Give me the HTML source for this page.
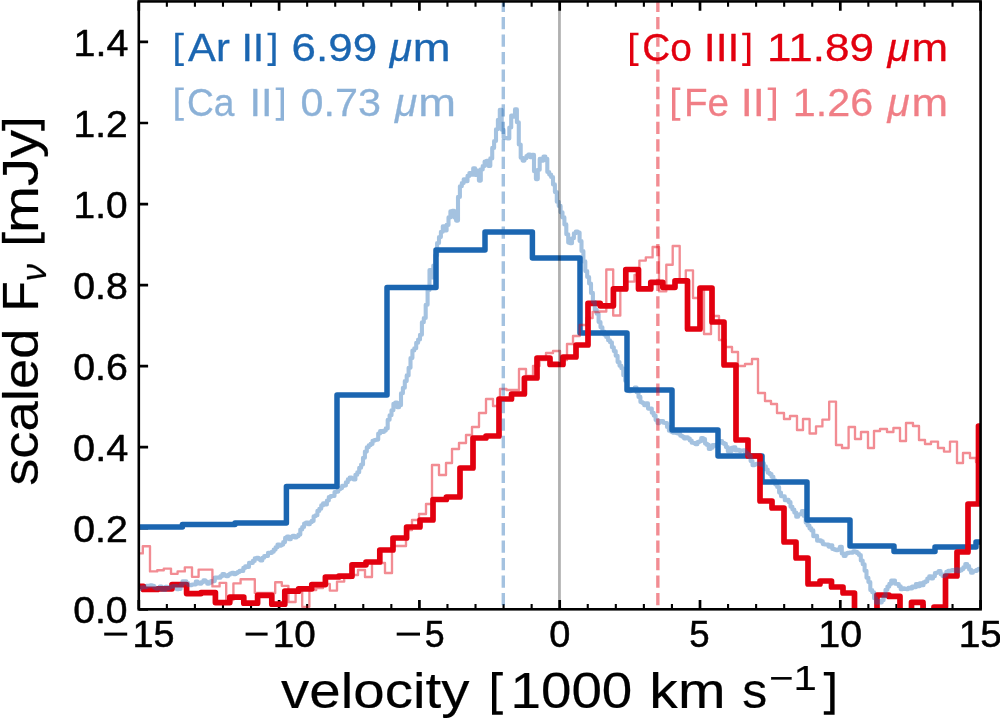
<!DOCTYPE html>
<html><head><meta charset="utf-8"><title>velocity profiles</title>
<style>
html,body{margin:0;padding:0;background:#fff;}
body{width:1000px;height:719px;overflow:hidden;}
svg{display:block;will-change:transform;}
text{font-family:"Liberation Sans",sans-serif;}
</style></head><body>
<svg width="1000" height="719" viewBox="0 0 1000 719">
<rect width="1000" height="719" fill="#fff"/>
<defs><clipPath id="ax"><rect x="138.8" y="1.4" width="841.8" height="607.9"/></clipPath></defs>
<path d="M138.80,609.3v-9.3M138.80,1.4v9.3M279.10,609.3v-9.3M279.10,1.4v9.3M419.40,609.3v-9.3M419.40,1.4v9.3M559.70,609.3v-9.3M559.70,1.4v9.3M700.00,609.3v-9.3M700.00,1.4v9.3M840.30,609.3v-9.3M840.30,1.4v9.3M980.60,609.3v-9.3M980.60,1.4v9.3M138.8,609.30h9.3M138.8,528.25h9.3M138.8,447.19h9.3M138.8,366.14h9.3M138.8,285.08h9.3M138.8,204.03h9.3M138.8,122.98h9.3M138.8,41.92h9.3" stroke="#000" stroke-width="2.7" fill="none"/>
<path d="M166.86,609.3v-5.2M166.86,1.4v5.3M194.92,609.3v-5.2M194.92,1.4v5.3M222.98,609.3v-5.2M222.98,1.4v5.3M251.04,609.3v-5.2M251.04,1.4v5.3M307.16,609.3v-5.2M307.16,1.4v5.3M335.22,609.3v-5.2M335.22,1.4v5.3M363.28,609.3v-5.2M363.28,1.4v5.3M391.34,609.3v-5.2M391.34,1.4v5.3M447.46,609.3v-5.2M447.46,1.4v5.3M475.52,609.3v-5.2M475.52,1.4v5.3M503.58,609.3v-5.2M503.58,1.4v5.3M531.64,609.3v-5.2M531.64,1.4v5.3M587.76,609.3v-5.2M587.76,1.4v5.3M615.82,609.3v-5.2M615.82,1.4v5.3M643.88,609.3v-5.2M643.88,1.4v5.3M671.94,609.3v-5.2M671.94,1.4v5.3M728.06,609.3v-5.2M728.06,1.4v5.3M756.12,609.3v-5.2M756.12,1.4v5.3M784.18,609.3v-5.2M784.18,1.4v5.3M812.24,609.3v-5.2M812.24,1.4v5.3M868.36,609.3v-5.2M868.36,1.4v5.3M896.42,609.3v-5.2M896.42,1.4v5.3M924.48,609.3v-5.2M924.48,1.4v5.3M952.54,609.3v-5.2M952.54,1.4v5.3" stroke="#000" stroke-width="2.1" fill="none"/>
<g clip-path="url(#ax)" fill="none" stroke-linejoin="round">
<path d="M139.3,527.0H182.4V524.4H235.0V523.0H286.4V486.4H337.0V395.0H387.0V287.6H436.0V250.0H485.0V232.0H532.4V258.0H580.0V333.0H627.0V390.0H672.0V430.0H718.0V456.0H762.0V482.0H807.0V520.0H850.0V546.0H894.0V551.6H935.0V547.0H976.0V542.0H985.0" stroke="#1b66b1" stroke-width="5.5"/>
<path d="M139.3,586.4H143.4V589.4H157.5V588.8H172.0V584.6H186.6V593.6H201.0V592.6H215.4V602.6H229.8V597.2H243.8V603.2H257.6V595.4H271.8V604.2H284.8V591.2H298.6V588.8H311.8V584.6H325.4V577.0H338.8V576.2H352.0V564.8H366.0V562.0H379.8V550.0H393.0V538.0H406.6V527.0H420.0V520.0H433.0V499.5H446.4V497.0H460.0V468.0H473.0V438.0H486.0V436.0H499.0V399.0H511.5V394.0H524.4V378.0H537.0V358.0H550.0V364.4H563.0V357.0H576.0V345.0H588.0V303.4H600.2V305.8H613.4V288.9H625.8V269.5H638.5V288.9H650.8V282.4H662.8V287.3H675.0V280.8H687.5V329.0H700.0V288.0H712.0V322.0H724.0V365.0H736.0V440.0H748.0V456.0H760.0V501.0H772.0V508.0H784.0V542.0H796.0V558.0H808.0V584.0H820.0V581.0H831.5V587.0H843.0V593.0H854.5V618.0H866.0V618.0H877.0V595.0H889.0V596.4H900.0V618.0H911.5V602.4H923.0V618.0H934.0V607.0H945.5V576.0H957.0V552.0H968.0V504.0H978.5V426.0H990.0" stroke="#e2000f" stroke-width="5.7"/>
<path d="M138.8,588.9H140.7V587.5H142.6V587.2H144.5V587.3H146.4V585.7H148.3V586.3H150.2V585.2H152.1V585.7H154.0V587.5H155.9V588.6H157.8V588.3H159.7V586.5H161.6V589.8H163.5V590.0H165.4V586.7H167.3V588.4H169.2V587.0H171.1V586.6H173.0V586.0H174.9V586.0H176.8V589.2H178.7V588.9H180.6V584.9H182.5V581.3H184.4V581.3H186.3V583.0H188.2V584.9H190.1V585.1H192.0V584.5H193.9V584.5H195.8V581.5H197.7V583.4H199.6V583.6H201.5V582.1H203.4V580.4H205.3V581.5H207.2V583.8H209.1V582.7H211.0V581.0H212.9V581.1H214.8V577.5H216.7V577.6H218.6V577.8H220.5V576.1H222.4V574.0H224.3V575.5H226.2V576.3H228.1V574.8H230.0V573.5H231.9V572.8H233.8V574.3H235.7V573.1H237.6V572.0H239.5V570.9H241.4V570.9H243.3V567.9H245.2V566.4H247.1V567.0H249.0V562.9H250.9V563.0H252.8V560.9H254.7V558.4H256.6V557.7H258.5V559.1H260.4V560.5H262.3V557.8H264.2V556.1H266.1V555.9H268.0V552.8H269.9V553.0H271.8V551.8H273.7V549.6H275.6V547.3H277.5V544.6H279.4V545.6H281.3V544.6H283.2V542.1H285.1V537.9H287.0V536.5H288.9V539.2H290.8V536.9H292.7V535.9H294.6V537.5H296.5V536.2H298.4V534.6H300.3V529.5H302.2V527.0H304.1V523.5H306.0V522.5H307.9V524.2H309.8V522.2H311.7V520.9H313.6V516.3H315.5V515.2H317.4V510.9H319.3V508.7H321.2V505.4H323.1V503.3H325.0V504.5H326.9V500.5H328.8V497.1H330.7V496.1H332.6V496.0H334.5V492.1H336.4V491.6H338.3V489.3H340.2V488.1H342.1V485.9H344.0V485.5H345.9V482.3H347.8V479.4H349.7V477.5H351.6V478.5H353.5V479.4H355.4V474.8H357.3V472.2H359.2V467.7H361.1V464.5H363.0V457.7H364.9V451.6H366.8V447.3H368.7V445.2H370.6V443.9H372.5V440.7H374.4V440.0H376.3V439.6H378.2V433.5H380.1V431.1H382.0V431.9H383.9V430.6H385.8V428.4H387.7V419.8H389.6V415.3H391.5V410.3H393.4V403.8H395.3V402.6H397.2V407.3H399.1V405.3H401.0V393.2H402.9V387.8H404.8V381.1H406.7V375.4H408.6V367.7H410.5V358.1H412.4V350.5H414.3V348.2H416.2V342.8H418.1V339.5H420.0V334.8H421.9V322.3H423.8V318.0H425.7V304.7H427.6V289.9H429.5V270.0H431.4V277.4H433.3V265.6H435.2V255.3H437.1V243.0H439.0V237.1H440.9V231.8H442.8V226.3H444.7V230.4H446.6V224.9H448.5V217.4H450.4V211.3H452.3V210.8H454.2V217.5H456.1V220.6H458.0V196.9H459.9V186.3H461.8V183.1H463.7V179.2H465.6V181.2H467.5V175.9H469.4V173.0H471.3V174.6H473.2V168.3H475.1V174.9H477.0V170.5H478.9V180.6H480.8V169.4H482.7V166.1H484.6V161.5H486.5V160.9H488.4V165.9H490.3V158.4H492.2V147.9H494.1V141.0H496.0V129.3H497.9V119.8H499.8V109.7H501.7V129.7H503.6V137.8H505.5V138.1H507.4V138.5H509.3V127.5H511.2V115.6H513.1V116.7H515.0V109.4H516.9V122.3H518.8V144.5H520.7V157.7H522.6V160.6H524.5V158.2H526.4V156.0H528.3V154.6H530.2V157.2H532.1V154.9H534.0V171.2H535.9V179.1H537.8V169.8H539.7V158.9H541.6V160.6H543.5V156.6H545.4V158.7H547.3V172.0H549.2V174.6H551.1V177.0H553.0V184.4H554.9V192.1H556.8V201.8H558.7V205.9H560.6V212.3H562.5V217.4H564.4V224.4H566.3V234.3H568.2V242.6H570.1V243.3H572.0V238.2H573.9V233.2H575.8V231.5H577.7V232.5H579.6V241.0H581.5V251.0H583.4V261.4H585.3V271.1H587.2V277.0H589.1V283.5H591.0V292.9H592.9V301.8H594.8V309.8H596.7V313.8H598.6V322.0H600.5V327.2H602.4V331.6H604.3V334.8H606.2V336.9H608.1V340.3H610.0V342.3H611.9V347.2H613.8V351.1H615.7V355.7H617.6V362.1H619.5V365.7H621.4V368.3H623.3V375.2H625.2V380.8H627.1V389.3H629.0V391.3H630.9V389.4H632.8V389.4H634.7V387.5H636.6V392.3H638.5V396.9H640.4V402.0H642.3V403.0H644.2V405.2H646.1V403.4H648.0V408.6H649.9V408.6H651.8V412.7H653.7V415.6H655.6V419.9H657.5V423.1H659.4V421.0H661.3V421.0H663.2V422.7H665.1V423.1H667.0V427.0H668.9V430.8H670.8V431.6H672.7V432.6H674.6V432.3H676.5V433.3H678.4V433.7H680.3V435.7H682.2V436.8H684.1V438.4H686.0V437.4H687.9V438.6H689.8V440.5H691.7V442.8H693.6V443.1H695.5V444.3H697.4V442.1H699.3V441.2H701.2V438.1H703.1V439.0H705.0V443.6H706.9V444.9H708.8V448.9H710.7V447.7H712.6V445.1H714.5V445.6H716.4V444.6H718.3V441.6H720.2V441.1H722.1V442.9H724.0V443.9H725.9V447.1H727.8V451.2H729.7V451.2H731.6V447.7H733.5V447.4H735.4V450.4H737.3V449.7H739.2V450.9H741.1V450.5H743.0V450.3H744.9V452.2H746.8V454.0H748.7V455.8H750.6V461.1H752.5V465.2H754.4V464.5H756.3V463.7H758.2V463.7H760.1V464.7H762.0V463.3H763.9V466.2H765.8V469.5H767.7V472.7H769.6V474.1H771.5V476.7H773.4V480.2H775.3V484.4H777.2V487.0H779.1V492.6H781.0V496.3H782.9V496.4H784.8V500.2H786.7V499.8H788.6V502.1H790.5V506.8H792.4V509.5H794.3V512.6H796.2V516.7H798.1V514.5H800.0V514.1H801.9V511.1H803.8V516.0H805.7V522.6H807.6V525.5H809.5V528.4H811.4V530.4H813.3V536.3H815.2V535.9H817.1V540.7H819.0V540.4H820.9V541.4H822.8V544.1H824.7V544.5H826.6V544.6H828.5V546.6H830.4V545.2H832.3V548.9H834.2V549.6H836.1V550.2H838.0V549.3H839.9V546.7H841.8V553.5H843.7V556.0H845.6V553.6H847.5V552.9H849.4V552.5H851.3V552.6H853.2V551.3H855.1V551.7H857.0V553.2H858.9V555.0H860.8V560.5H862.7V564.3H864.6V570.8H866.5V577.7H868.4V582.0H870.3V590.1H872.2V592.2H874.1V598.3H876.0V602.6H877.9V601.0H879.8V602.5H881.7V600.2H883.6V596.5H885.5V589.7H887.4V586.6H889.3V583.9H891.2V580.6H893.1V580.5H895.0V583.7H896.9V584.0H898.8V586.3H900.7V589.2H902.6V588.4H904.5V589.0H906.4V589.1H908.3V587.7H910.2V588.5H912.1V586.6H914.0V587.3H915.9V584.0H917.8V586.3H919.7V583.2H921.6V585.2H923.5V582.4H925.4V581.4H927.3V578.5H929.2V576.4H931.1V578.5H933.0V576.2H934.9V573.1H936.8V572.5H938.7V571.1H940.6V574.3H942.5V576.0H944.4V574.8H946.3V571.8H948.2V570.9H950.1V570.8H952.0V570.1H953.9V570.7H955.8V569.3H957.7V571.2H959.6V570.4H961.5V569.1H963.4V567.2H965.3V564.1H967.2V566.1H969.1V569.6H971.0V572.8H972.9V571.2H974.8V570.9H976.7V569.7H978.6V568.9H980.5V570.4" stroke="#1b66b1" stroke-opacity="0.4" stroke-width="4.1"/>
<path d="M139.3,553.4H142.8V546.2H150.0V571.4H157.2V570.2H163.8V568.6H171.0V573.8H177.6V571.4H184.8V567.4H192.0V576.8H198.6V569.6H205.5V569.6H212.4V586.4H219.6V582.8H226.2V600.0H233.4V583.4H240.6V579.2H247.7V579.2H254.8V593.0H261.6V593.0H268.4V593.0H275.2V582.2H281.8V585.8H288.4V602.0H295.6V592.0H302.2V606.8H309.4V590.0H316.2V588.0H323.0V584.0H329.8V590.6H337.0V581.6H344.2V578.0H351.0V575.0H358.0V570.0H365.0V577.0H372.0V563.0H378.5V563.0H385.0V573.0H392.0V546.0H399.0V546.0H406.0V530.0H412.0V520.0H419.0V514.0H426.0V504.0H432.0V465.0H439.0V475.0H446.0V463.0H452.0V449.0H459.0V443.0H466.0V435.0H472.0V427.0H479.0V413.0H486.0V399.0H493.0V406.0H500.0V389.0H506.5V390.0H513.0V390.0H519.0V369.0H526.0V376.0H533.0V366.0H539.5V360.0H546.0V353.0H553.0V351.0H560.0V360.0H567.0V344.0H573.0V336.0H579.7V325.0H586.5V318.0H592.6V312.0H599.5V311.5H606.3V269.5H613.2V315.5H620.3V290.0H627.0V281.6H634.5V275.0H639.4V260.6H645.8V257.4H652.6V247.0H659.0V291.3H666.3V264.7H672.7V246.0H679.7V280.0H685.8V270.3H693.0V298.0H698.5V290.0H704.0V334.0H711.0V316.0H719.0V340.0H725.5V347.0H732.0V352.0H738.0V366.0H745.0V364.0H752.0V359.0H758.0V393.0H765.0V401.0H771.0V404.0H777.0V413.0H784.0V419.0H790.0V416.0H797.0V430.0H803.0V419.0H809.6V433.5H816.0V426.4H822.4V419.6H829.2V401.6H836.0V445.0H842.0V448.0H848.6V427.0H855.0V439.0H861.0V432.0H868.0V448.0H874.0V431.0H880.0V429.0H887.0V432.0H893.4V428.0H900.0V441.0H906.0V423.0H913.0V426.0H919.0V440.0H925.0V444.0H931.0V441.6H938.0V448.0H944.0V451.6H950.0V441.6H957.0V463.0H963.0V453.0H970.0V458.0H976.0V462.0H985.0" stroke="#e2000f" stroke-opacity="0.45" stroke-width="2.35"/>
</g>
<path d="M175.20,32.68H183.80V35.37H178.64V63.34H183.80V66.04H175.20Z" fill="#1b66b1"/>
<text transform="translate(188.12,61.10) scale(1.0608,1)" font-size="39.40" fill="#1b66b1" stroke="#1b66b1" stroke-width="0.3" stroke-linejoin="round">Ar</text>
<text transform="translate(241.41,61.10) scale(1.0464,1)" font-size="39.40" fill="#1b66b1" stroke="#1b66b1" stroke-width="0.3" stroke-linejoin="round">II</text>
<path d="M275.70,32.68H267.50V35.37H272.26V63.34H267.50V66.04H275.70Z" fill="#1b66b1"/>
<text transform="translate(291.62,61.10) scale(1.1148,1)" font-size="39.40" fill="#1b66b1" stroke="#1b66b1" stroke-width="0.3" stroke-linejoin="round">6.99</text>
<text transform="translate(389.63,61.10) scale(1.0272,1)" font-size="39.40" fill="#1b66b1" stroke="#1b66b1" stroke-width="0.3" stroke-linejoin="round" font-style="italic">μ</text>
<text transform="translate(412.86,61.10) scale(1.1542,1)" font-size="39.40" fill="#1b66b1" stroke="#1b66b1" stroke-width="0.3" stroke-linejoin="round">m</text>
<path d="M175.20,87.38H183.80V90.07H178.64V118.04H183.80V120.74H175.20Z" fill="#1b66b1" fill-opacity="0.5"/>
<text transform="translate(186.96,115.80) scale(0.9440,1)" font-size="39.40" fill="#1b66b1" opacity="0.5" stroke="#1b66b1" stroke-width="0.3" stroke-linejoin="round">Ca</text>
<text transform="translate(249.59,115.80) scale(1.0531,1)" font-size="39.40" fill="#1b66b1" opacity="0.5" stroke="#1b66b1" stroke-width="0.3" stroke-linejoin="round">II</text>
<path d="M284.00,87.38H275.70V90.07H280.56V118.04H275.70V120.74H284.00Z" fill="#1b66b1" fill-opacity="0.5"/>
<text transform="translate(300.47,115.80) scale(1.0487,1)" font-size="39.40" fill="#1b66b1" opacity="0.5" stroke="#1b66b1" stroke-width="0.3" stroke-linejoin="round">0.73</text>
<text transform="translate(394.93,115.80) scale(1.0272,1)" font-size="39.40" fill="#1b66b1" opacity="0.5" stroke="#1b66b1" stroke-width="0.3" stroke-linejoin="round" font-style="italic">μ</text>
<text transform="translate(418.17,115.80) scale(1.1506,1)" font-size="39.40" fill="#1b66b1" opacity="0.5" stroke="#1b66b1" stroke-width="0.3" stroke-linejoin="round">m</text>
<path d="M630.00,32.68H638.50V35.37H633.44V63.34H638.50V66.04H630.00Z" fill="#e2000f"/>
<text transform="translate(642.18,61.10) scale(0.9844,1)" font-size="39.40" fill="#e2000f" stroke="#e2000f" stroke-width="0.3" stroke-linejoin="round">Co</text>
<text transform="translate(703.76,61.10) scale(1.0879,1)" font-size="39.40" fill="#e2000f" stroke="#e2000f" stroke-width="0.3" stroke-linejoin="round">III</text>
<path d="M750.40,32.68H742.20V35.37H746.96V63.34H742.20V66.04H750.40Z" fill="#e2000f"/>
<text transform="translate(767.02,61.10) scale(1.1183,1)" font-size="39.40" fill="#e2000f" stroke="#e2000f" stroke-width="0.3" stroke-linejoin="round">11.89</text>
<text transform="translate(887.43,61.10) scale(1.0272,1)" font-size="39.40" fill="#e2000f" stroke="#e2000f" stroke-width="0.3" stroke-linejoin="round" font-style="italic">μ</text>
<text transform="translate(911.47,61.10) scale(1.1146,1)" font-size="39.40" fill="#e2000f" stroke="#e2000f" stroke-width="0.3" stroke-linejoin="round">m</text>
<path d="M672.00,87.38H680.30V90.07H675.44V118.04H680.30V120.74H672.00Z" fill="#e2000f" fill-opacity="0.5"/>
<text transform="translate(683.93,115.80) scale(0.9801,1)" font-size="39.40" fill="#e2000f" opacity="0.5" stroke="#e2000f" stroke-width="0.3" stroke-linejoin="round">Fe</text>
<text transform="translate(740.82,115.80) scale(1.1005,1)" font-size="39.40" fill="#e2000f" opacity="0.5" stroke="#e2000f" stroke-width="0.3" stroke-linejoin="round">II</text>
<path d="M776.00,87.38H767.70V90.07H772.56V118.04H767.70V120.74H776.00Z" fill="#e2000f" fill-opacity="0.5"/>
<text transform="translate(792.72,115.80) scale(1.0493,1)" font-size="39.40" fill="#e2000f" opacity="0.5" stroke="#e2000f" stroke-width="0.3" stroke-linejoin="round">1.26</text>
<text transform="translate(887.43,115.80) scale(1.0272,1)" font-size="39.40" fill="#e2000f" opacity="0.5" stroke="#e2000f" stroke-width="0.3" stroke-linejoin="round" font-style="italic">μ</text>
<text transform="translate(911.47,115.80) scale(1.1146,1)" font-size="39.40" fill="#e2000f" opacity="0.5" stroke="#e2000f" stroke-width="0.3" stroke-linejoin="round">m</text>
<g clip-path="url(#ax)" fill="none">
<path d="M559.45,1.4V609.3" stroke="#000" stroke-opacity="0.31" stroke-width="2.8"/>
<path d="M503.3,-0.4V609.3" stroke="#1b66b1" stroke-opacity="0.4" stroke-width="3.4" stroke-dasharray="12.3 5.15"/>
<path d="M657.85,-0.4V609.3" stroke="#e2000f" stroke-opacity="0.45" stroke-width="3.4" stroke-dasharray="12.3 5.15"/>
</g>
<rect x="138.8" y="1.4" width="841.8" height="607.9" fill="none" stroke="#000" stroke-width="2.6"/>
<text transform="translate(132.57,646.60) scale(1.0158,1)" font-size="37.20" fill="#000" stroke="#000" stroke-width="0.5" stroke-linejoin="round">15</text>
<text transform="translate(272.80,646.60) scale(1.0403,1)" font-size="37.20" fill="#000" stroke="#000" stroke-width="0.5" stroke-linejoin="round">10</text>
<text transform="translate(424.77,646.60) scale(0.9621,1)" font-size="37.20" fill="#000" stroke="#000" stroke-width="0.5" stroke-linejoin="round">5</text>
<text transform="translate(549.18,646.60) scale(1.0193,1)" font-size="37.20" fill="#000" stroke="#000" stroke-width="0.5" stroke-linejoin="round">0</text>
<text transform="translate(689.33,646.60) scale(0.9847,1)" font-size="37.20" fill="#000" stroke="#000" stroke-width="0.5" stroke-linejoin="round">5</text>
<text transform="translate(818.25,646.60) scale(1.0591,1)" font-size="37.20" fill="#000" stroke="#000" stroke-width="0.5" stroke-linejoin="round">10</text>
<text transform="translate(958.68,646.60) scale(1.0483,1)" font-size="37.20" fill="#000" stroke="#000" stroke-width="0.5" stroke-linejoin="round">15</text>
<rect x="104.2" y="632.6" width="23.0" height="3.0" fill="#000"/>
<rect x="245.6" y="632.6" width="22.0" height="3.0" fill="#000"/>
<rect x="396.7" y="632.6" width="23.3" height="3.0" fill="#000"/>
<text transform="translate(73.13,623.30) scale(1.0528,1)" font-size="37.20" fill="#000" stroke="#000" stroke-width="0.5" stroke-linejoin="round">0.0</text>
<text transform="translate(73.13,542.25) scale(1.0567,1)" font-size="37.20" fill="#000" stroke="#000" stroke-width="0.5" stroke-linejoin="round">0.2</text>
<text transform="translate(73.11,461.19) scale(1.0671,1)" font-size="37.20" fill="#000" stroke="#000" stroke-width="0.5" stroke-linejoin="round">0.4</text>
<text transform="translate(73.13,380.14) scale(1.0568,1)" font-size="37.20" fill="#000" stroke="#000" stroke-width="0.5" stroke-linejoin="round">0.6</text>
<text transform="translate(73.13,299.08) scale(1.0568,1)" font-size="37.20" fill="#000" stroke="#000" stroke-width="0.5" stroke-linejoin="round">0.8</text>
<text transform="translate(73.59,218.03) scale(1.0438,1)" font-size="37.20" fill="#000" stroke="#000" stroke-width="0.5" stroke-linejoin="round">1.0</text>
<text transform="translate(73.58,136.98) scale(1.0476,1)" font-size="37.20" fill="#000" stroke="#000" stroke-width="0.5" stroke-linejoin="round">1.2</text>
<text transform="translate(73.55,55.92) scale(1.0585,1)" font-size="37.20" fill="#000" stroke="#000" stroke-width="0.5" stroke-linejoin="round">1.4</text>
<text transform="translate(281.10,708.40) scale(1.1226,1)" font-size="50.30" fill="#000" stroke="#000" stroke-width="0.2" stroke-linejoin="round">velocity</text>
<path d="M492.00,671.92H502.80V675.38H496.42V711.28H502.80V714.74H492.00Z" fill="#000"/>
<text transform="translate(510.47,708.40) scale(1.0889,1)" font-size="50.30" fill="#000" stroke="#000" stroke-width="0.2" stroke-linejoin="round">1000</text>
<text transform="translate(649.37,708.40) scale(1.1358,1)" font-size="50.30" fill="#000" stroke="#000" stroke-width="0.2" stroke-linejoin="round">km</text>
<text transform="translate(742.18,708.40) scale(0.9936,1)" font-size="50.30" fill="#000" stroke="#000" stroke-width="0.2" stroke-linejoin="round">s</text>
<path d="M834.60,671.92H823.80V675.38H830.18V711.28H823.80V714.74H834.60Z" fill="#000"/>
<text transform="translate(768.98,690.40) scale(1.1918,1)" font-size="35.20" fill="#000" stroke="#000" stroke-width="0.2" stroke-linejoin="round">−1</text>
<g transform="translate(38.3,0) rotate(-90)"><text transform="translate(-485.85,0.00) scale(1.0822,1)" font-size="50.30" fill="#000" stroke="#000" stroke-width="0.2" stroke-linejoin="round">scaled</text><text transform="translate(-311.39,0.00) scale(0.9875,1)" font-size="50.30" fill="#000" stroke="#000" stroke-width="0.2" stroke-linejoin="round">F</text><text transform="translate(-281.25,7.50) scale(0.9857,1)" font-size="35.20" fill="#000" stroke="#000" stroke-width="0.2" stroke-linejoin="round" font-style="italic">ν</text><path d="M-243.00,-36.48H-232.20V-33.02H-238.58V2.88H-232.20V6.34H-243.00Z" fill="#000"/><text transform="translate(-232.98,0.00) scale(1.1192,1)" font-size="50.30" fill="#000" stroke="#000" stroke-width="0.2" stroke-linejoin="round">mJy</text><path d="M-120.00,-36.48H-130.80V-33.02H-124.42V2.88H-130.80V6.34H-120.00Z" fill="#000"/></g>
</svg>
</body></html>
